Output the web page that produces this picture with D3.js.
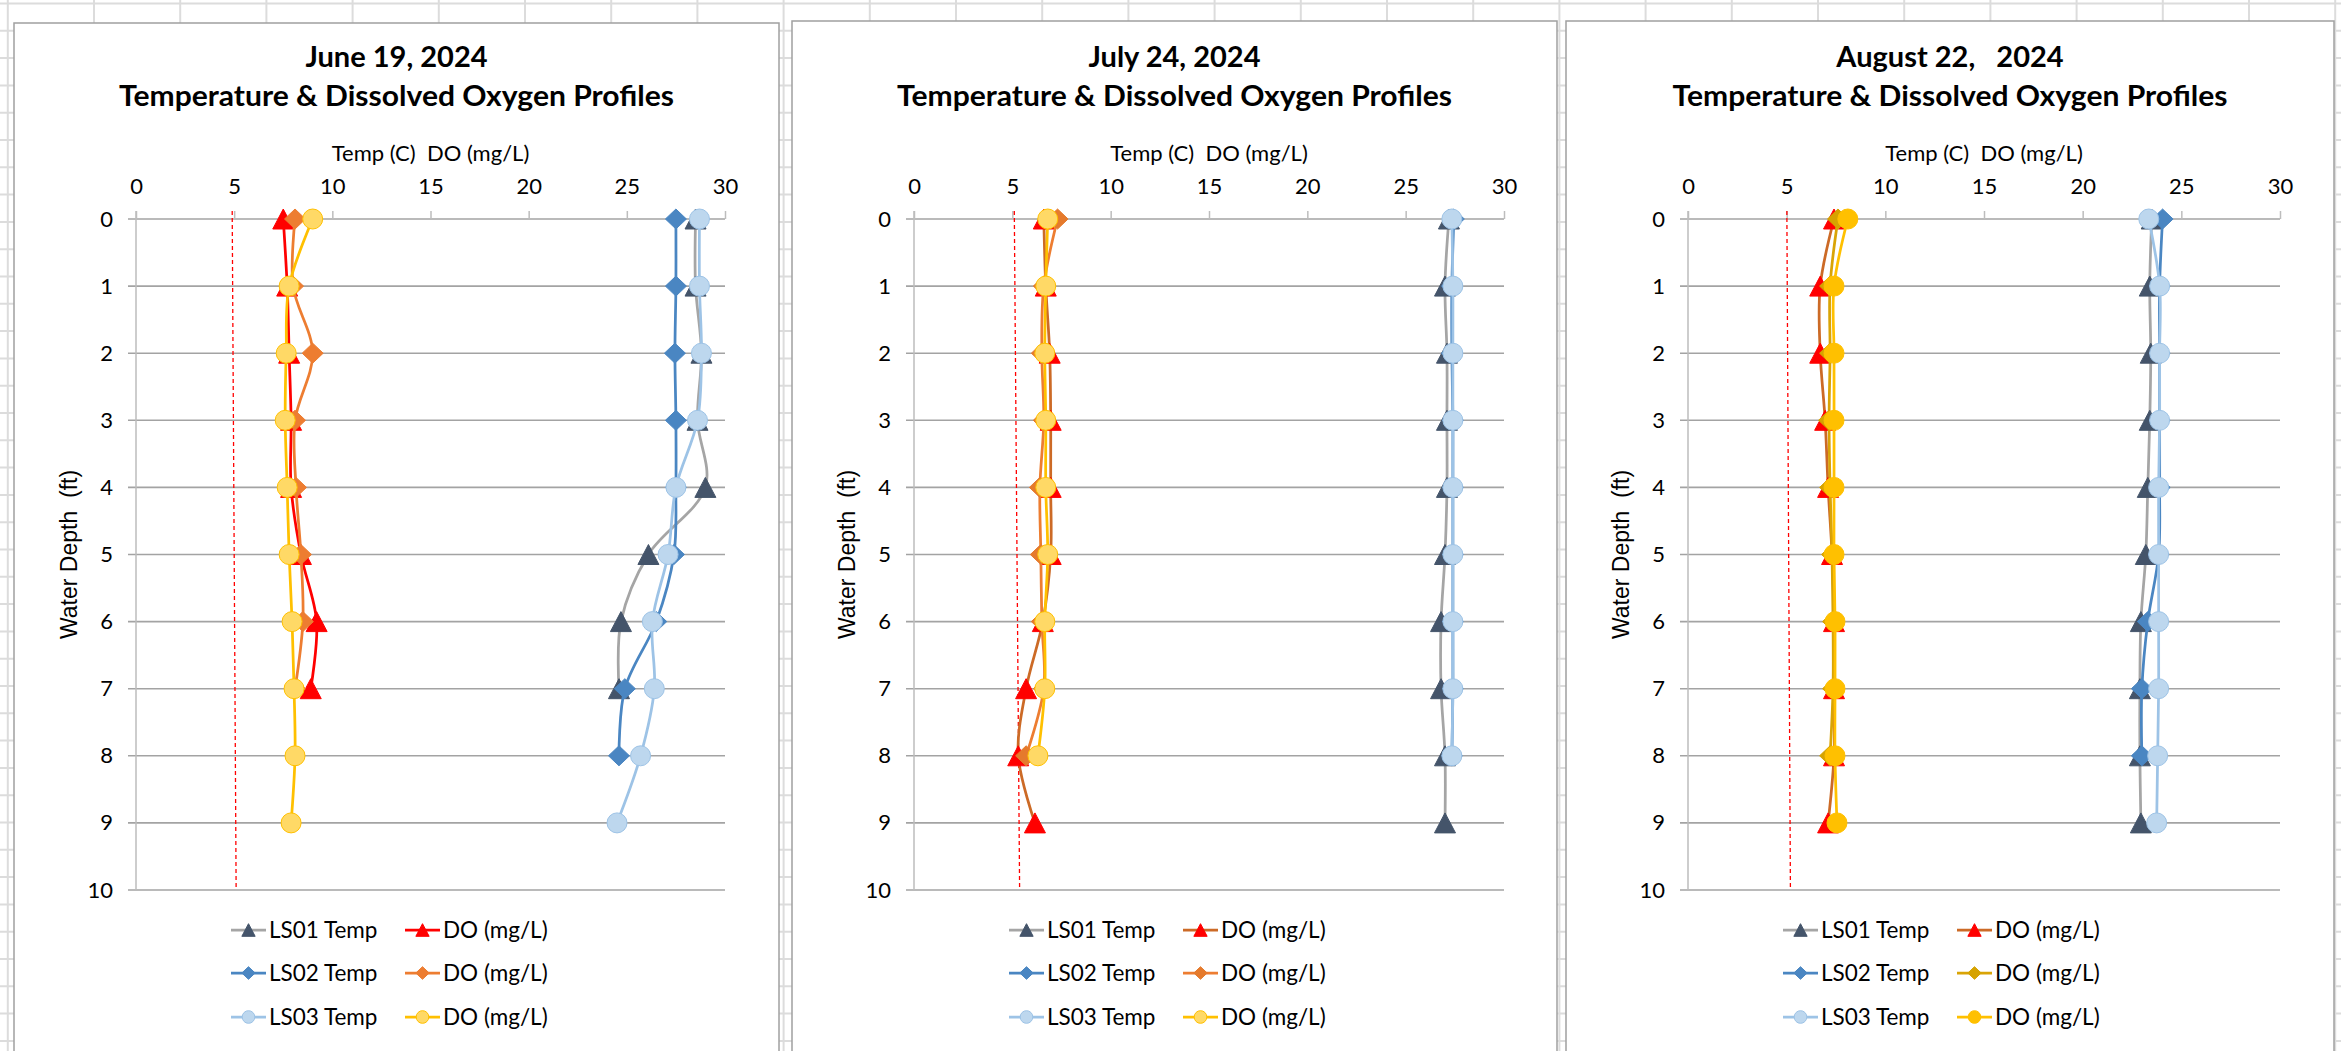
<!DOCTYPE html>
<html>
<head>
<meta charset="utf-8">
<script src="https://cdn.jsdelivr.net/npm/d3@7"></script>
<style>
  html, body { margin: 0; padding: 0; background: #fff; }
  svg { display: block; }
  text { font-family: Lato, "Noto Sans", sans-serif; fill: #000; }
</style>
</head>
<body>
<svg id="chart" width="2341" height="1051"></svg>
<script>
// ---- data ----
const depths = [0, 1, 2, 3, 4, 5, 6, 7, 8, 9];
const depthTicks = [0, 1, 2, 3, 4, 5, 6, 7, 8, 9, 10];
const valueTicks = [0, 5, 10, 15, 20, 25, 30];

const chartDates = ["June 19, 2024", "July 24, 2024", "August 22,   2024"];
const chartSubtitle = "Temperature & Dissolved Oxygen Profiles";
const xAxisTitle = "Temp (C)  DO (mg/L)";
const yAxisTitle = "Water Depth  (ft)";
const legendLabels = ["LS01 Temp", "DO (mg/L)", "LS02 Temp", "DO (mg/L)", "LS03 Temp", "DO (mg/L)"];

// June 19, 2024
const juneLS01Temp = [28.5, 28.5, 28.8, 28.6, 29.0, 26.1, 24.7, 24.6, null, null];
const juneLS01DO = [7.5, 7.7, 7.8, 7.9, 7.9, 8.4, 9.2, 8.9, null, null];
const juneLS02Temp = [27.5, 27.5, 27.45, 27.5, 27.5, 27.4, 26.5, 24.9, 24.6, null];
const juneLS02DO = [8.1, 8.0, 9.0, 8.1, 8.15, 8.4, 8.5, 8.1, null, null];
const juneLS03Temp = [28.7, 28.7, 28.8, 28.6, 27.5, 27.1, 26.3, 26.4, 25.7, 24.5];
const juneLS03DO = [9.0, 7.8, 7.65, 7.6, 7.7, 7.8, 7.95, 8.05, 8.1, 7.9];
const juneDOLimit = [4.9, 5.1];

// July 24, 2024
const julyLS01Temp = [27.2, 27.0, 27.1, 27.1, 27.1, 27.0, 26.8, 26.8, 27.0, 27.0];
const julyLS01DO = [6.6, 6.7, 6.9, 6.95, 6.95, 6.95, 6.55, 5.7, 5.3, 6.15];
const julyLS02Temp = [27.45, 27.35, 27.35, 27.4, 27.4, 27.4, 27.4, 27.4, 27.35, null];
const julyLS02DO = [7.3, 6.6, 6.5, 6.6, 6.4, 6.45, 6.5, 6.6, 5.7, null];
const julyLS03Temp = [27.35, 27.4, 27.4, 27.4, 27.4, 27.4, 27.4, 27.4, 27.35, null];
const julyLS03DO = [6.8, 6.7, 6.65, 6.7, 6.7, 6.8, 6.65, 6.65, 6.3, null];
const julyDOLimit = [5.1, 5.37];

// August 22, 2024
const augLS01Temp = [23.5, 23.4, 23.45, 23.4, 23.3, 23.2, 22.95, 22.9, 22.9, 22.95];
const augLS01DO = [7.4, 6.7, 6.7, 6.95, 7.1, 7.3, 7.4, 7.4, 7.4, 7.1];
const augLS02Temp = [24.05, 23.9, 23.9, 23.9, 23.9, 23.85, 23.3, 23.0, 23.0, null];
const augLS02DO = [7.6, 7.2, 7.2, 7.15, 7.2, 7.3, 7.35, 7.35, 7.2, null];
const augLS03Temp = [23.35, 23.9, 23.9, 23.9, 23.85, 23.85, 23.85, 23.85, 23.8, 23.75];
const augLS03DO = [8.1, 7.4, 7.4, 7.4, 7.4, 7.4, 7.45, 7.45, 7.45, 7.55];
const augDOLimit = [5.01, 5.19];

const limitDepths = [-0.12, 10];

// ---- styles ----
const triangleBox = {
  draw(context, size) {
    const r = Math.sqrt(size);
    context.moveTo(0, -r);
    context.lineTo(r * 1.05, r);
    context.lineTo(-r * 1.05, r);
    context.closePath();
  }
};
const diamondBox = {
  draw(context, size) {
    const r = Math.sqrt(size);
    context.moveTo(0, -r);
    context.lineTo(r * 1.05, 0);
    context.lineTo(0, r);
    context.lineTo(-r * 1.05, 0);
    context.closePath();
  }
};
const circleBox = {
  draw(context, size) {
    const r = Math.sqrt(size);
    context.arc(0, 0, r, 0, 2 * Math.PI);
  }
};

const temp1 = { shape: triangleBox, line: "#a5a5a5", fill: "#44546a", stroke: "#44546a" };
const temp2 = { shape: diamondBox, line: "#4a86c2", fill: "#4a86c2", stroke: "#4a86c2" };
const temp3 = { shape: circleBox, line: "#9dc3e6", fill: "#bdd7ee", stroke: "#9dc3e6" };

const charts = [
  {
    date: chartDates[0],
    panel: { left: 14, top: 23, width: 765, plotW: 589 },
    limit: juneDOLimit,
    series: [
      { values: juneLS01Temp, ...temp1 },
      { values: juneLS01DO, shape: triangleBox, line: "#ff0000", fill: "#ff0000", stroke: "#ff0000" },
      { values: juneLS02Temp, ...temp2 },
      { values: juneLS02DO, shape: diamondBox, line: "#ed7d31", fill: "#ed7d31", stroke: "#ed7d31" },
      { values: juneLS03Temp, ...temp3 },
      { values: juneLS03DO, shape: circleBox, line: "#ffc000", fill: "#ffd966", stroke: "#ffc000" }
    ]
  },
  {
    date: chartDates[1],
    panel: { left: 792, top: 21, width: 765, plotW: 590 },
    limit: julyDOLimit,
    series: [
      { values: julyLS01Temp, ...temp1 },
      { values: julyLS01DO, shape: triangleBox, line: "#cc6a26", fill: "#ff0000", stroke: "#ff0000" },
      { values: julyLS02Temp, ...temp2 },
      { values: julyLS02DO, shape: diamondBox, line: "#ed7d31", fill: "#e57a2c", stroke: "#e57a2c" },
      { values: julyLS03Temp, ...temp3 },
      { values: julyLS03DO, shape: circleBox, line: "#ffc000", fill: "#ffd966", stroke: "#ffc000" }
    ]
  },
  {
    date: chartDates[2],
    panel: { left: 1566, top: 21, width: 768, plotW: 592 },
    limit: augDOLimit,
    series: [
      { values: augLS01Temp, ...temp1 },
      { values: augLS01DO, shape: triangleBox, line: "#cc6a26", fill: "#ff0000", stroke: "#ff0000" },
      { values: augLS02Temp, ...temp2 },
      { values: augLS02DO, shape: diamondBox, line: "#d9a406", fill: "#d6a300", stroke: "#d6a300" },
      { values: augLS03Temp, ...temp3 },
      { values: augLS03DO, shape: circleBox, line: "#ffc000", fill: "#ffc000", stroke: "#ffc000" }
    ]
  }
];

const svg = d3.select("#chart");
const W = 2341;
const H = 1051;

// spreadsheet cells behind the charts
const sheet = svg.append("g");
sheet.append("rect").attr("width", W).attr("height", H).attr("fill", "#fff");
sheet.selectAll("line.col")
  .data(d3.range(7.8, W, 86.2))
  .enter().append("line")
  .attr("x1", (d) => d).attr("x2", (d) => d)
  .attr("y1", 0).attr("y2", H)
  .attr("stroke", "#dcdcdc").attr("stroke-width", 2);
sheet.selectAll("line.row")
  .data(d3.range(3.5, H, 27.3))
  .enter().append("line")
  .attr("x1", 0).attr("x2", W)
  .attr("y1", (d) => d).attr("y2", (d) => d)
  .attr("stroke", "#dcdcdc").attr("stroke-width", 2);

const plotTop = 219;
const plotBottom = 890;
const gridColor = "#a3a3a3";

const drawChart = (chart) => {
  const p = chart.panel;
  const x0 = p.left + 122;
  const x = d3.scaleLinear().domain([0, 30]).range([x0, x0 + p.plotW]);
  const y = d3.scaleLinear().domain([0, 10]).range([plotTop, plotBottom]);
  const g = svg.append("g");

  g.append("rect")
    .attr("x", p.left).attr("y", p.top)
    .attr("width", p.width).attr("height", H - p.top + 5)
    .attr("fill", "#fff")
    .attr("stroke", "#a0a0a0").attr("stroke-width", 1.5);

  const cx = p.left + p.width / 2;
  g.append("text")
    .attr("x", cx).attr("y", 67)
    .attr("text-anchor", "middle")
    .style("font-weight", 700).style("font-size", "29px")
    .style("white-space", "pre")
    .text(chart.date);
  g.append("text")
    .attr("x", cx).attr("y", 106)
    .attr("text-anchor", "middle")
    .attr("textLength", 555).attr("lengthAdjust", "spacingAndGlyphs")
    .style("font-weight", 700).style("font-size", "29px")
    .text(chartSubtitle);

  g.append("text")
    .attr("x", x(15)).attr("y", 161)
    .attr("text-anchor", "middle")
    .style("font-size", "22px")
    .style("white-space", "pre")
    .text(xAxisTitle);

  g.append("text")
    .attr("transform", `translate(${x0 - 59},${(plotTop + plotBottom) / 2}) rotate(-90)`)
    .attr("text-anchor", "middle")
    .style("font-family", "'Liberation Sans', Arial, sans-serif")
    .style("font-size", "23px")
    .style("white-space", "pre")
    .text(yAxisTitle);

  // horizontal gridlines at every depth
  g.append("g")
    .selectAll("line")
    .data(depthTicks)
    .enter().append("line")
    .attr("x1", x0 - 8).attr("x2", x(30))
    .attr("y1", (d) => y(d)).attr("y2", (d) => y(d))
    .attr("stroke", gridColor).attr("stroke-width", 1.6);

  // left axis line
  g.append("line")
    .attr("x1", x0).attr("x2", x0)
    .attr("y1", plotTop - 8).attr("y2", plotBottom)
    .attr("stroke", "#bdbdbd").attr("stroke-width", 1.5);

  const topAxis = g.append("g")
    .attr("transform", `translate(0,${plotTop})`)
    .call(d3.axisTop(x).tickValues(valueTicks).tickSize(8).tickPadding(17).tickSizeOuter(0));
  topAxis.select(".domain").remove();
  topAxis.selectAll(".tick line").attr("stroke", "#bdbdbd").attr("stroke-width", 1.5);
  topAxis.selectAll(".tick text").style("font-size", "22px").style("font-family", "Lato, sans-serif").attr("fill", "#000");

  const leftAxis = g.append("g")
    .attr("transform", `translate(${x0},0)`)
    .call(d3.axisLeft(y).tickValues(depthTicks).tickSize(0).tickPadding(23).tickSizeOuter(0));
  leftAxis.select(".domain").remove();
  leftAxis.selectAll(".tick text").style("font-size", "22px").style("font-family", "Lato, sans-serif").attr("fill", "#000");

  // DO reference line
  const limitLine = d3.line().x((d) => x(d[1])).y((d) => y(d[0]));
  g.append("path")
    .datum(d3.zip(limitDepths, chart.limit))
    .attr("d", limitLine)
    .attr("fill", "none")
    .attr("stroke", "#ff0000").attr("stroke-width", 1.3)
    .attr("stroke-dasharray", "4 3");

  const profile = d3.line()
    .x((d) => x(d.v))
    .y((d) => y(d.depth))
    .curve(d3.curveCatmullRom.alpha(0.5));

  chart.series.forEach((s) => {
    const pts = depths
      .map((depth, i) => ({ depth, v: s.values[i] }))
      .filter((d) => d.v != null);
    g.append("path")
      .datum(pts)
      .attr("d", profile)
      .attr("fill", "none")
      .attr("stroke", s.line).attr("stroke-width", 2.75);
    g.append("g")
      .selectAll("path")
      .data(pts)
      .enter().append("path")
      .attr("transform", (d) => `translate(${x(d.v)},${y(d.depth)})`)
      .attr("d", d3.symbol().type(s.shape).size(100))
      .attr("fill", s.fill)
      .attr("stroke", s.stroke).attr("stroke-width", 1);
  });

  // legend
  const rowsY = [930, 973, 1017];
  const legend = g.append("g");
  chart.series.forEach((s, i) => {
    const col = i % 2;
    const ly = rowsY[Math.floor(i / 2)];
    const lx = x0 + (col === 0 ? 95 : 269);
    legend.append("line")
      .attr("x1", lx).attr("x2", lx + 35)
      .attr("y1", ly).attr("y2", ly)
      .attr("stroke", s.line).attr("stroke-width", 2.75);
    legend.append("path")
      .attr("transform", `translate(${lx + 17.5},${ly})`)
      .attr("d", d3.symbol().type(s.shape).size(40))
      .attr("fill", s.fill)
      .attr("stroke", s.stroke).attr("stroke-width", 1);
    legend.append("text")
      .attr("x", lx + 38).attr("y", ly)
      .attr("dy", "0.36em")
      .style("font-size", "22.5px")
      .text(legendLabels[i]);
  });
};

charts.forEach(drawChart);
</script>
</body>
</html>
